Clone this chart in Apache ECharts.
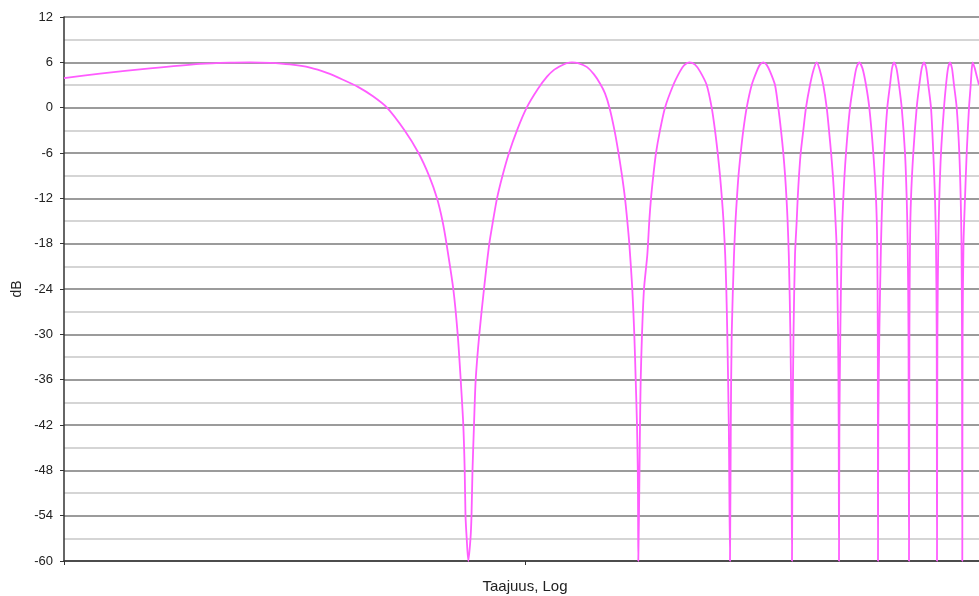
<!DOCTYPE html>
<html>
<head>
<meta charset="utf-8">
<script src="https://cdn.jsdelivr.net/npm/echarts@6/dist/echarts.min.js"></script>
<style>
html,body{margin:0;padding:0;background:#fff;}
#chart{width:979px;height:596px;}
</style>
</head>
<body>
<div id="chart"></div>
<script>
// Relative log-frequency position (unlabelled log axis)
const freqPos = [
  0, 36, 86, 136, 166, 186, 206, 226, 246, 263, 279, 294, 309, 323, 340.5, 354.5, 365, 373, 378.5, 382.5,
  389.3, 393.7, 396.7, 399.3, 400.7, 401.5, 402.7, 404.3,
  406.5, 407.5, 408.5, 410, 411.7, 415.3, 420, 425.3, 429, 433, 438.5, 445, 453, 462.7, 474, 483,
  490, 497, 502.5, 508, 514, 522.7, 530, 536, 541, 545.5, 550.5, 554.5, 558, 561, 563.3, 565.3, 568.3,
  570.3, 571.7, 573, 573.8, 574.1, 574.3,
  575.5, 576, 576.7, 578, 580, 583.3, 585.3, 587, 589.3, 592, 596, 601, 609.3, 616, 620, 625.3,
  631, 636, 642.7, 647.7, 651, 653.7, 656, 657.9, 659.5, 661.2, 662.3, 663.3, 664.8, 666,
  666.8, 667.7, 670, 671.5, 672.9, 674.5, 676.7, 679.3, 682.7, 687.7, 692.7, 696, 699.3, 702.5,
  706, 711, 714.3, 717, 719.3, 721.1, 722.5, 723.6, 724.8, 726.4, 727.4, 728,
  728.6, 729.5, 731, 732.7, 733.7, 735, 736.7, 739.3, 742, 746, 749.5, 752.7, 755.8, 759.3,
  762.7, 765, 767.1, 768.9, 770.3, 771.5, 772.5, 774.1, 774.7, 775,
  775.4, 776.3, 777.7, 779.3, 782, 786, 789.3, 792.3, 795.3, 798.5, 802, 805.3, 809.3, 812, 813.2, 813.8, 814,
  814.3, 815.3, 817, 818.3, 820.3, 823.3, 826, 828, 830, 832.5, 835, 837.7, 841, 842.7, 843.7, 844.5, 845,
  845.4, 846, 847, 849.3, 852.7, 855.3, 857.7, 860, 862.2, 864.3, 867, 869.3, 871, 872, 872.7, 873,
  873.4, 874.3, 875.3, 877, 880, 882, 884, 886, 888, 890, 892.7, 895.3, 896.7, 897.5, 898, 898.3,
  898.6, 899.5, 901, 902.7, 905, 906.7, 907.8, 908.7, 910.8, 912.7, 915
];
// Response in dB at those positions
const gainDb = [
  3.9, 4.5, 5.2, 5.8, 5.97, 6.0, 5.93, 5.72, 5.3, 4.6, 3.7, 2.75, 1.5, 0, -3, -6, -9, -12, -15, -18,
  -24, -30, -36, -42, -48, -54, -57, -60,
  -57, -54, -48, -42, -36, -30, -24, -18, -15, -12, -9, -6, -3, 0, 2.5, 4.1,
  5.0, 5.55, 5.88, 6.0, 5.9, 5.4, 4.4, 3.2, 1.9, 0, -3, -6, -9, -12, -15, -18, -24,
  -30, -36, -42, -48, -54, -60,
  -48, -42, -36, -30, -24, -19.5, -15, -12, -9, -6, -3, 0, 3, 4.8, 5.6, 6,
  5.7, 4.8, 3, 0, -3, -6, -9, -12, -15, -19.5, -24, -30, -42, -60,
  -42, -30, -19.5, -15, -12, -9, -6, -3, 0, 3, 4.8, 5.7, 6, 5.7,
  4.8, 3, 0, -3, -6, -9, -12, -15, -19.5, -30, -42, -60,
  -42, -30, -19.5, -15, -12, -9, -6, -3, 0, 3, 5.0, 6, 5.0, 3,
  0, -3, -6, -9, -12, -15, -18, -30, -42, -60,
  -42, -30, -18, -12, -6, 0, 3, 5.2, 6, 5.2, 3, 0, -6, -12, -18, -30, -60,
  -42, -30, -18, -12, -6, 0, 3, 5.2, 6, 5.2, 3, 0, -6, -12, -18, -30, -60,
  -30, -18, -12, -6, 0, 3, 5.2, 6, 5.2, 3, 0, -6, -12, -18, -30, -60,
  -30, -18, -12, -6, 0, 3, 5.2, 6, 5.2, 3, 0, -6, -12, -18, -30, -60,
  -30, -18, -12, -6, 0, 3, 5.2, 6, 5.2, 4.2, 3.0
];
const yTicks = { min: -60, max: 12, step: 6 };
const xTicks = { min: 0, max: 915, step: 461 };
const xTitle = 'Taajuus, Log';
const yTitle = 'dB';

const points = freqPos.map((x, i) => [x, gainDb[i]]);
const FONT = '"Liberation Sans", Arial, sans-serif';

const chart = echarts.init(document.getElementById('chart'), null, { renderer: 'canvas' });
chart.setOption({
  animation: false,
  backgroundColor: '#ffffff',
  grid: { left: 64, top: 17, right: 0, bottom: 35, containLabel: false, outerBoundsMode: 'none' },
  xAxis: {
    type: 'value',
    min: xTicks.min, max: xTicks.max, interval: xTicks.step,
    name: xTitle, nameLocation: 'middle', nameGap: 18,
    nameTextStyle: { fontFamily: FONT, fontSize: 15, color: '#222', padding: [0, 0, 0, 7] },
    axisLine: { show: true, onZero: false, lineStyle: { color: '#333', width: 1.5 } },
    axisTick: { show: true, length: 4, lineStyle: { color: '#333', width: 1 } },
    axisLabel: { show: false },
    splitLine: { show: false }
  },
  yAxis: {
    type: 'value',
    min: yTicks.min, max: yTicks.max, interval: yTicks.step,
    name: yTitle, nameLocation: 'middle', nameGap: 40, nameRotate: 90, nameMoveOverlap: false,
    nameTextStyle: { fontFamily: FONT, fontSize: 14, color: '#222' },
    axisLine: { show: true, onZero: false, lineStyle: { color: '#333', width: 1.5 } },
    axisTick: { show: true, length: 4, lineStyle: { color: '#333', width: 1 } },
    axisLabel: { fontFamily: FONT, fontSize: 13, color: '#222', margin: 11 },
    splitLine: { show: true, lineStyle: { color: '#7a7a7a', width: 1.5 } },
    minorTick: { show: false, splitNumber: 2 },
    minorSplitLine: { show: true, lineStyle: { color: '#c8c8c8', width: 1.5 } }
  },
  series: [{
    type: 'line',
    data: points,
    showSymbol: false,
    smooth: 0.25,
    clip: true,
    lineStyle: { color: '#ff5cff', width: 1.8 },
    itemStyle: { color: '#ff5cff' }
  }]
});
</script>
</body>
</html>
